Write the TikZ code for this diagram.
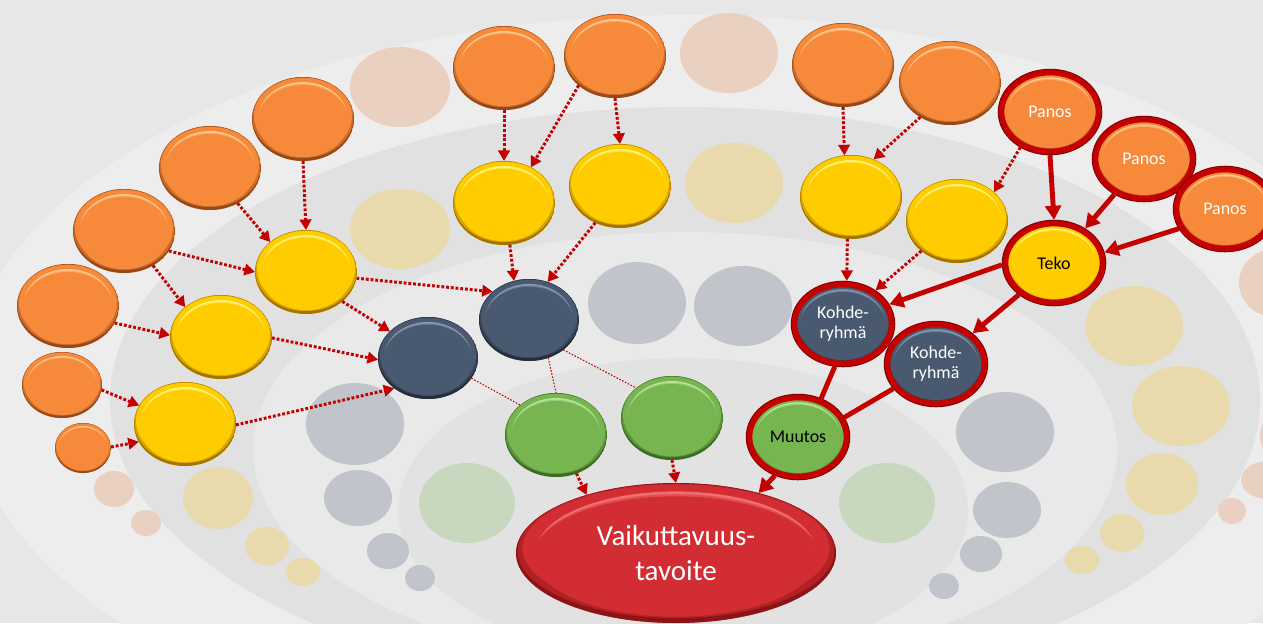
\documentclass[tikz,border=0pt]{standalone}
\usepackage{fontspec}
\setmainfont{Carlito}
\usetikzlibrary{arrows.meta, shapes.geometric, calc}

\definecolor{ormain}{RGB}{246,137,58}
\definecolor{ordark}{RGB}{150,72,24}
\definecolor{orlight}{RGB}{255,200,140}
\definecolor{yemain}{RGB}{255,204,0}
\definecolor{yedark}{RGB}{165,115,0}
\definecolor{yelight}{RGB}{255,245,120}
\definecolor{navymain}{RGB}{72,89,112}
\definecolor{navydark}{RGB}{36,45,58}
\definecolor{navylight}{RGB}{135,152,175}
\definecolor{grmain}{RGB}{118,181,80}
\definecolor{grdark}{RGB}{60,108,36}
\definecolor{grlight}{RGB}{185,228,155}
\definecolor{goalmain}{RGB}{210,45,50}
\definecolor{goaldark}{RGB}{140,20,22}
\definecolor{goallight}{RGB}{240,110,110}
\definecolor{rimred}{RGB}{196,0,0}
\definecolor{rimdark}{RGB}{120,0,0}
\definecolor{arrred}{RGB}{196,0,0}
\definecolor{fadeorange}{RGB}{234,208,192}
\definecolor{fadeyellow}{RGB}{232,218,172}
\definecolor{fadegray}{RGB}{193,196,202}
\definecolor{fadegreen}{RGB}{200,216,190}
\definecolor{bgbase}{RGB}{231,231,231}
\definecolor{bandA}{RGB}{237,237,237}
\definecolor{bandB}{RGB}{225,225,225}
\definecolor{bandC}{RGB}{233,233,233}
\definecolor{bandD}{RGB}{226,226,226}

\begin{document}
\begin{tikzpicture}[
  x=0.02cm, y=-0.02cm,
  font=\fontsize{10.2}{11.5}\selectfont,
  % bevel look: dark crescent at the bottom, light streak near the top
  bevel/.style n args={3}{fill=#2, path picture={
    \begin{scope}[
        x={($(path picture bounding box.east)-(path picture bounding box.center)$)},
        y={($(path picture bounding box.north)-(path picture bounding box.center)$)}]
      \coordinate (mid) at (path picture bounding box.center);
      \fill[#1] (mid) circle (1);
      \fill[#2!55!#1] ($(mid)+(0,0.03)$) ellipse [x radius=0.99, y radius=0.96];
      \fill[#2] ($(mid)+(0,0.07)$) ellipse [x radius=0.96, y radius=0.91];
      \fill[#3] ($(mid)+(0,0.03)$) ellipse [x radius=0.87, y radius=0.85];
      \fill[#2!50!#3] ($(mid)+(0,-0.01)$) ellipse [x radius=0.88, y radius=0.85];
      \fill[#2] ($(mid)+(0,-0.05)$) ellipse [x radius=0.89, y radius=0.86];
    \end{scope}}},
  ball/.style={ellipse, inner sep=0pt, outer sep=0pt, align=center, minimum width=2.04cm, minimum height=1.68cm},
  orangeball/.style={ball, bevel={ordark}{ormain}{orlight}},
  yellowball/.style={ball, bevel={yedark}{yemain}{yelight}},
  navyball/.style={ball, bevel={navydark}{navymain}{navylight}},
  greenball/.style={ball, bevel={grdark}{grmain}{grlight}},
  rimmed/.style={preaction={draw=rimdark, line width=4.3pt}, draw=rimred, line width=3.2pt,
    outer sep=2.1pt, minimum width=1.94cm, minimum height=1.58cm},
  dotarr/.style={-{Triangle[length=6pt, width=6.5pt]}, draw=arrred, line width=1.7pt, dash pattern=on 1.6pt off 1.1pt},
  thinlink/.style={draw=arrred, line width=0.6pt, dash pattern=on 0.9pt off 0.9pt},
  solidarr/.style={-{Triangle[length=8pt, width=9pt]}, draw=arrred, line width=2.8pt},
  solidlink/.style={draw=arrred, line width=2.8pt}
]
\useasboundingbox (0,0) rectangle (1263,623);
\clip (0,0) rectangle (1263,623);

% background bands
\fill[bgbase] (0,0) rectangle (1263,623);
\fill[bandA] (685,390) ellipse [x radius=720, y radius=375];
\fill[bandB] (685,400) ellipse [x radius=575, y radius=293];
\fill[bandC] (685,450) ellipse [x radius=432, y radius=218];
\fill[bandD] (683,510) ellipse [x radius=285, y radius=152];

% faded (unused) places
\foreach \cx/\cy/\rx/\ry in {400/87/50/40, 729/53/49/40, 114/489/20/18, 146/523/15/13,
    1275/283/36/34, 1292/436/32/30, 1268/480/27/19, 1232/511/14/13}
  \fill[fadeorange] (\cx,\cy) ellipse [x radius=\rx, y radius=\ry];
\foreach \cx/\cy/\rx/\ry in {734/183/49/40, 400/229/50/40, 1134/326/49/40, 1181/406/49/40,
    1162/484/36/31, 1122/533/22/19, 1082/560/17/14, 218/498/35/31, 267/546/22/19, 303/572/17/14}
  \fill[fadeyellow] (\cx,\cy) ellipse [x radius=\rx, y radius=\ry];
\foreach \cx/\cy/\rx/\ry in {637/303/49/41, 743/306/49/40, 355/424/49/41, 358/498/34/28,
    388/551/21/18, 420/578/15/13, 1005/432/49/40, 1007/510/34/28, 981/554/21/18, 944/586/15/13}
  \fill[fadegray] (\cx,\cy) ellipse [x radius=\rx, y radius=\ry];
\foreach \cx/\cy in {467/503, 887/503}
  \fill[fadegreen] (\cx,\cy) ellipse [x radius=48, y radius=40];

% inputs
\node[orangeball, minimum width=1.12cm, minimum height=1cm] (o1) at (83,448) {};
\node[orangeball, minimum width=1.6cm, minimum height=1.32cm] (o2) at (62,385) {};
\node[orangeball] (o3) at (68,306) {};
\node[orangeball] (o4) at (124,231) {};
\node[orangeball] (o5) at (210,168) {};
\node[orangeball] (o6) at (303,119) {};
\node[orangeball] (o7) at (504,68) {};
\node[orangeball] (o8) at (615,56) {};
\node[orangeball] (o9) at (843,65) {};
\node[orangeball] (o10) at (950,83) {};
\node[orangeball, rimmed, text=white] (p1) at (1050,112) {Panos};
\node[orangeball, rimmed, text=white] (p2) at (1144,159) {Panos};
\node[orangeball, rimmed, text=white] (p3) at (1225,209) {Panos};

% actions
\node[yellowball] (y1) at (185,424) {};
\node[yellowball] (y2) at (221,337) {};
\node[yellowball] (y3) at (306,272) {};
\node[yellowball] (y4) at (504,203) {};
\node[yellowball] (y5) at (620,186) {};
\node[yellowball] (y6) at (851,197) {};
\node[yellowball] (y7) at (957,221) {};
\node[yellowball, rimmed] (teko) at (1054,263) {Teko};

% target groups
\node[navyball, minimum width=2cm, minimum height=1.64cm] (n1) at (428,358) {};
\node[navyball, minimum width=2cm, minimum height=1.64cm] (n2) at (529,320) {};
\node[navyball, rimmed, text=white] (k1) at (843,324) {Kohde-\\ryhmä};
\node[navyball, rimmed, text=white] (k2) at (936,364) {Kohde-\\ryhmä};

% changes
\node[greenball] (g1) at (556,435) {};
\node[greenball] (g2) at (672,418) {};
\node[greenball, rimmed] (muutos) at (798,437) {Muutos};

\node[ball, bevel={goaldark}{goalmain}{goallight}, minimum width=6.4cm, minimum height=2.8cm, text=white,
  font=\fontsize{16.5}{20.4}\selectfont] (goal) at (676,553) {Vaikuttavuus-\\tavoite};

% dotted chains
\draw[dotarr] (o6.south) -- (y3.north);
\draw[dotarr] (o5.-52) -- (y3.140);
\draw[dotarr] (o4.-24) -- (y3.180);
\draw[dotarr] (o4.-50) -- (y2.140);
\draw[dotarr] (o3.-20) -- (y2.178);
\draw[dotarr] (o2.-7) -- (y1.158);
\draw[dotarr] (o1.2) -- (y1.201);
\draw[dotarr] (y3.-7) -- (n2.142);
\draw[dotarr] (y3.-39) -- (n1.145);
\draw[dotarr] (y2.-1) -- (n1.182);
\draw[dotarr] (y1.-1) -- (n1.222);
\draw[dotarr] (o7.south) -- (y4.north);
\draw[dotarr] (o8.219) -- (y4.53);
\draw[dotarr] (o8.south) -- (y5.north);
\draw[dotarr] (y4.-82) -- (n2.111);
\draw[dotarr] (y5.236) -- (n2.64);
\draw[dotarr] (o9.south) -- (y6.99);
\draw[dotarr] (o10.229) -- (y6.59);
\draw[dotarr] (p1.230) -- (y7.38);
\draw[dotarr] (y6.265) -- (k1.85);
\draw[dotarr] (y7.220) -- (k1.46);
\draw[thinlink] (n1.-25) -- (g1.140);
\draw[thinlink] (n2.-63) -- (g1.90);
\draw[thinlink] (n2.-41) -- (g2.140);
\draw[dotarr] (g1.-62) -- (goal.147);
\draw[dotarr] (g2.south) -- (goal.north);

% highlighted chain
\draw[solidarr] (p1.south) -- (teko.north);
\draw[solidarr] (p2.230) -- (teko.48);
\draw[solidarr] (p3.203) -- (teko.12);
\draw[solidarr] (teko.182) -- (k1.23);
\draw[solidarr] (teko.222) -- (k2.40);
\draw[solidlink] (k1.259) -- (muutos.59);
\draw[solidlink] (k2.210) -- (muutos.23);
\draw[solidarr] (muutos.239) -- (goal.36);
\end{tikzpicture}
\end{document}
